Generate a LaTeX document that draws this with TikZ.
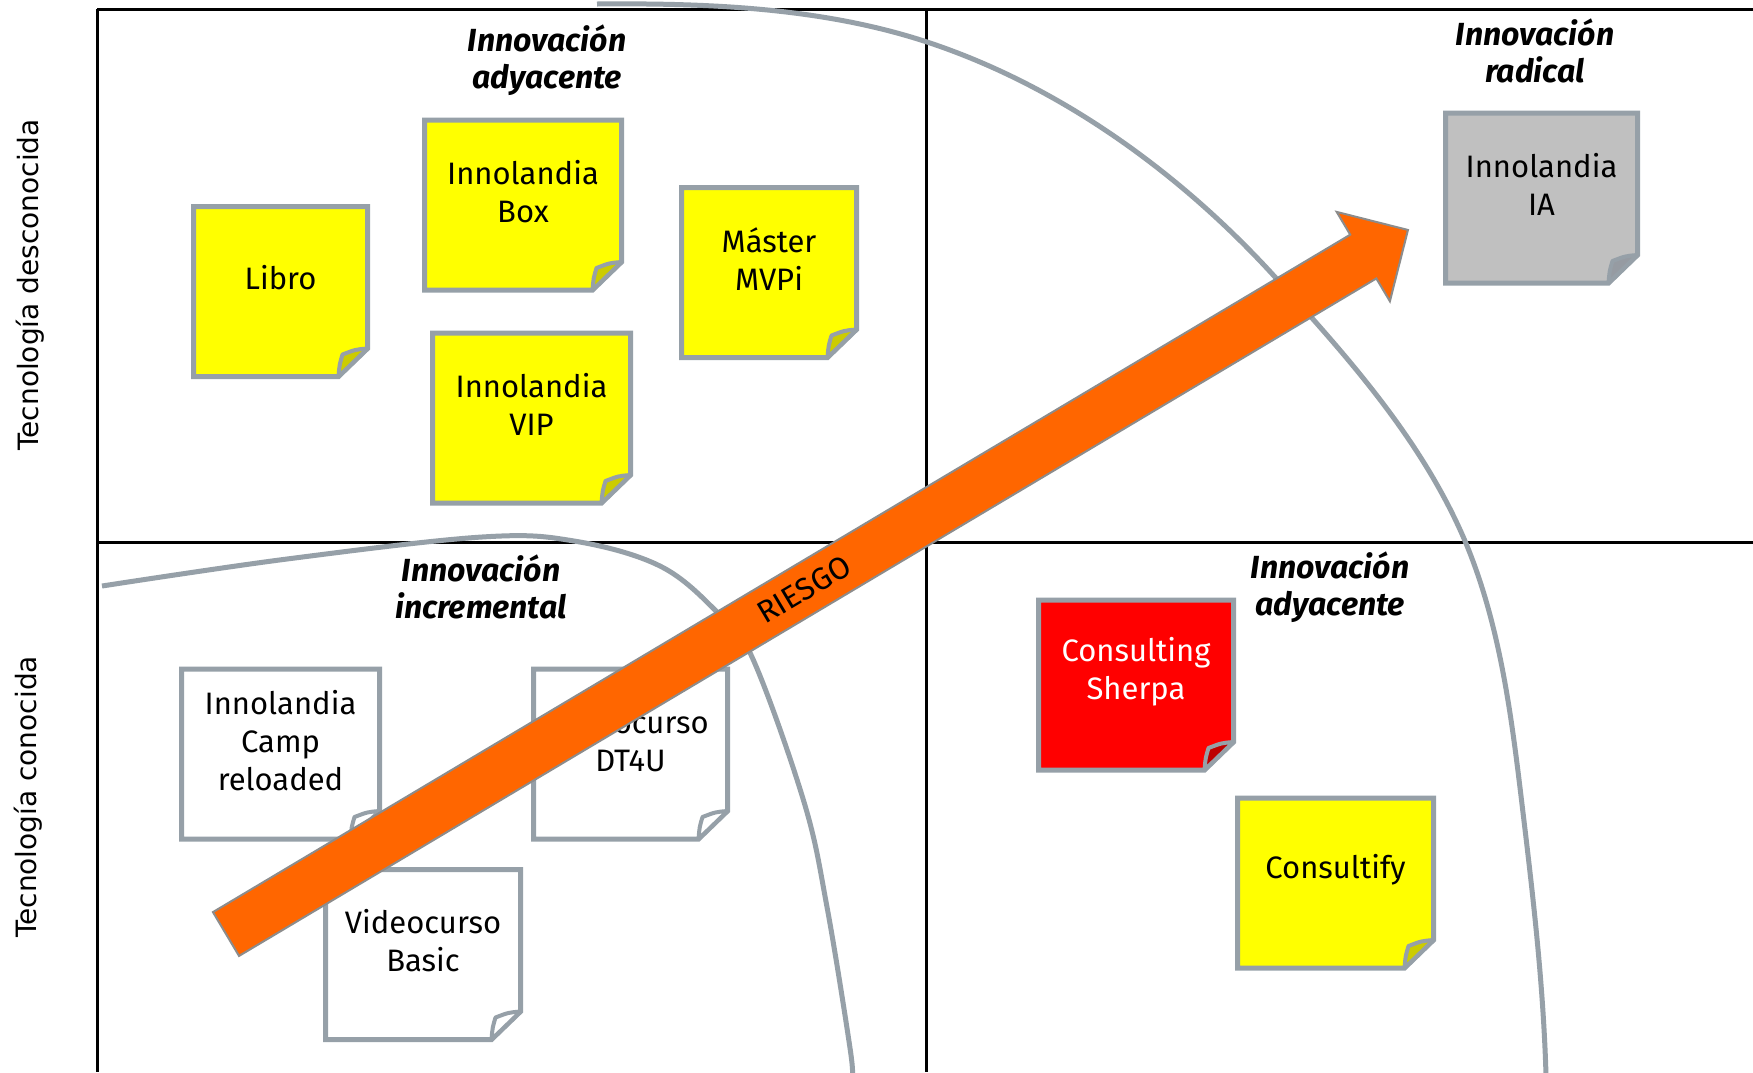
\documentclass[tikz,border=0pt]{standalone}
\usepackage{fontspec}
\setmainfont{Fira Sans}
\newfontfamily\axisfont{DejaVu Sans}
\usetikzlibrary{calc}
\definecolor{notegray}{RGB}{150,160,168}
\definecolor{curvegray}{RGB}{150,160,168}
\definecolor{yel}{RGB}{255,255,0}
\definecolor{yelfold}{RGB}{204,204,0}
\definecolor{redn}{RGB}{255,0,0}
\definecolor{redfold}{RGB}{190,0,0}
\definecolor{grayn}{RGB}{192,192,192}
\definecolor{grayfold}{RGB}{150,155,162}
\definecolor{arroworange}{RGB}{255,102,0}
\definecolor{arrowedge}{RGB}{140,140,140}
\tikzset{
  frameline/.style={draw=black, line width=3pt},
  curveline/.style={draw=curvegray, line width=5pt},
  notebase/.style={shape=rectangle, draw=none, inner sep=0pt, outer sep=0pt, minimum height=170pt},
  noteline/.style={draw=notegray, line width=5pt, line join=miter},
  foldline/.style={draw=notegray, line width=4pt, line join=round},
  notetext/.style={font=\fontsize{31}{38}\selectfont, align=center, inner sep=0pt},
  quadlabel/.style={font=\fontsize{32}{37}\selectfont\bfseries\itshape, align=center, inner sep=0pt},
  axislabel/.style={font=\axisfont\fontsize{28}{34}\selectfont, rotate=90, inner sep=0pt},
  riskarrow/.style={fill=arroworange, draw=arrowedge, line width=2pt, line join=miter},
  risktext/.style={font=\fontsize{31}{36}\selectfont, inner sep=0pt, text=black}
}
% name, center, width, fill, fold, text colour, text
\newcommand{\stickynote}[7]{%
  \node[notebase, minimum width=#3pt] (#1) at (#2) {};
  \draw[noteline, fill=#4] (#1.north west) -- (#1.north east)
     -- ([yshift=28pt]#1.south east) -- ([xshift=-29pt]#1.south east)
     -- (#1.south west) -- cycle;
  \draw[foldline, fill=#5] ([yshift=28pt]#1.south east)
     .. controls ([xshift=-12pt,yshift=27pt]#1.south east) .. ([xshift=-25pt,yshift=22pt]#1.south east)
     .. controls ([xshift=-28pt,yshift=12pt]#1.south east) .. ([xshift=-29pt]#1.south east) -- cycle;
  \node[notetext, text=#6] (#1-t) at ([yshift=13.5pt]#1.center) {#7};
}
\begin{document}
\begin{tikzpicture}[x=1pt, y=-1pt]
\useasboundingbox (0,0) rectangle (1753,1072);
\fill[white] (0,0) rectangle (1753,1072);

% frame
\draw[frameline] (97,9) -- (1753,9);
\draw[frameline] (97,9) -- (97,1072);
\draw[frameline] (926,9) -- (926,1072);
\draw[frameline] (97,542) -- (1753,542);

% axis labels
\node[axislabel] (ejeA) at (30,285) {Tecnología desconocida};
\node[axislabel] (ejeB) at (28,797) {Tecnología conocida};

% curves
\draw[curveline] (597,4) .. controls (707,3) and (822,7.4) .. (927,42)
  .. controls (1060,85.8) and (1180.8,173.4) .. (1275,277)
  .. controls (1347.9,357.2) and (1422,440) .. (1465,541)
  .. controls (1499,622) and (1510.6,709.6) .. (1521,796)
  .. controls (1532,887.7) and (1543.2,980) .. (1546,1075);
\draw[curveline] plot[smooth, tension=0.6] coordinates {
  (102,586) (287,559) (482,537) (574,541) (660,566) (717,612) (752,657)
  (804,802) (827,907) (850,1048) (852,1075)};

% quadrant labels
\node[quadlabel] (qtl) at (547,60) {Innovación\\adyacente};
\node[quadlabel] (qtr) at (1535,51) {Innovación\\radical};
\node[quadlabel] (qbl) at (481,587) {Innovación\\incremental};
\node[quadlabel] (qbr) at (1330,587) {Innovación\\adyacente};

% sticky notes
\stickynote{libro}{280.5,291.5}{174}{yel}{yelfold}{black}{Libro}
\stickynote{box}{523,205}{197}{yel}{yelfold}{black}{Innolandia\\Box}
\stickynote{master}{769,272.5}{175}{yel}{yelfold}{black}{Máster\\MVPi}
\stickynote{vip}{531.5,418}{198}{yel}{yelfold}{black}{Innolandia\\VIP}
\stickynote{ia}{1541.5,198}{192}{grayn}{grayfold}{black}{Innolandia\\IA}
\stickynote{sherpa}{1136,685}{195}{redn}{redfold}{white}{Consulting\\Sherpa}
\stickynote{consultify}{1335.5,883}{196}{yel}{yelfold}{black}{Consultify}
\stickynote{camp}{280.5,754}{198}{white}{white}{black}{Innolandia\\Camp\\reloaded}
\stickynote{dtfouru}{630.5,754}{194}{white}{white}{black}{Videocurso\\DT4U}
\stickynote{basic}{423,954.5}{195}{white}{white}{black}{Videocurso\\Basic}

% risk arrow
\coordinate (arrowtail) at (226,934);
\coordinate (arrowtip) at (1408,230);
\begin{scope}[shift={(arrowtail)}, rotate=30.78]
  \draw[riskarrow] (0,25.5) -- (1323.8,25.5) -- (1323.8,52) -- (1375.8,0)
     -- (1323.8,-52) -- (1323.8,-25.5) -- (0,-25.5) -- cycle;
  \node[risktext, transform shape] (riesgo) at (673,0) {RIESGO};
\end{scope}
\end{tikzpicture}
\end{document}
